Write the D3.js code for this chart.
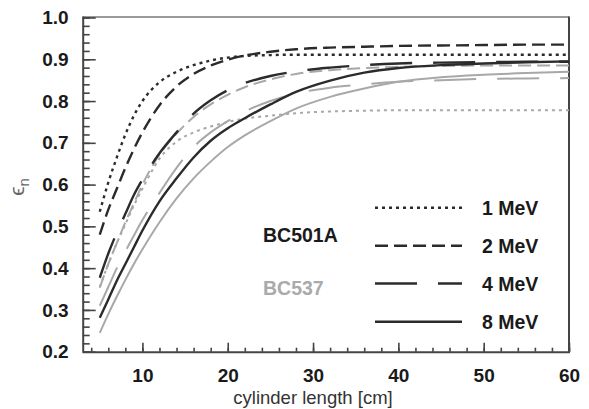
<!DOCTYPE html>
<html><head><meta charset="utf-8">
<script src="https://cdn.jsdelivr.net/npm/d3@7/dist/d3.min.js"></script>
<style>
html,body{margin:0;padding:0;background:#fff;}
svg{display:block;font-family:"Liberation Sans",Arial,Helvetica,sans-serif;}
</style></head>
<body>
<svg id="c" width="589" height="409"></svg>
<script>
// ---- data ----
const lengths = [5, 6, 7, 8, 9, 10, 12, 14, 16, 18, 20, 22, 25, 28, 32, 36, 40, 45, 50, 55, 60];
// BC501A (dark)
const bc501a_1MeV = [0.535,0.605,0.665,0.72,0.765,0.800,0.845,0.870,0.886,0.897,0.904,0.908,0.910,0.911,0.911,0.911,0.911,0.911,0.911,0.911,0.911];
const bc501a_2MeV = [0.48,0.54,0.59,0.64,0.685,0.725,0.79,0.835,0.865,0.885,0.899,0.909,0.918,0.924,0.928,0.930,0.932,0.933,0.934,0.935,0.935];
const bc501a_4MeV = [0.377,0.435,0.485,0.53,0.575,0.612,0.675,0.725,0.77,0.802,0.826,0.843,0.86,0.871,0.88,0.886,0.89,0.892,0.893,0.894,0.894];
const bc501a_8MeV = [0.281,0.325,0.37,0.41,0.45,0.49,0.56,0.615,0.665,0.705,0.735,0.759,0.792,0.822,0.849,0.868,0.879,0.886,0.89,0.893,0.895];
// BC537 (gray)
const bc537_1MeV = [0.355,0.41,0.46,0.505,0.55,0.59,0.662,0.703,0.725,0.739,0.75,0.758,0.765,0.771,0.775,0.777,0.778,0.778,0.778,0.778,0.778];
const bc537_2MeV = [0.353,0.41,0.46,0.51,0.555,0.6,0.672,0.722,0.762,0.792,0.815,0.833,0.852,0.865,0.874,0.879,0.882,0.884,0.885,0.885,0.885];
const bc537_4MeV = [0.31,0.355,0.40,0.44,0.478,0.515,0.58,0.64,0.69,0.725,0.752,0.775,0.80,0.818,0.832,0.84,0.846,0.85,0.853,0.854,0.855];
const bc537_8MeV = [0.245,0.29,0.332,0.372,0.41,0.445,0.51,0.567,0.615,0.655,0.69,0.718,0.752,0.782,0.81,0.83,0.846,0.857,0.863,0.867,0.870];

const energies = ["1 MeV", "2 MeV", "4 MeV", "8 MeV"];
const materials = ["BC501A", "BC537"];
const yTicks = [0.2,0.3,0.4,0.5,0.6,0.7,0.8,0.9,1.0];
const xTicks = [10,20,30,40,50,60];

// ---- styles ----
const dashes = ["3,4", "13,6", "42,21", null];
const matColor = {"BC501A":"#2b2b2b", "BC537":"#a8a8a8"};

const series = [
  {m:"BC537", e:0, v:bc537_1MeV},{m:"BC537", e:1, v:bc537_2MeV},
  {m:"BC537", e:2, v:bc537_4MeV},{m:"BC537", e:3, v:bc537_8MeV},
  {m:"BC501A", e:0, v:bc501a_1MeV},{m:"BC501A", e:1, v:bc501a_2MeV},
  {m:"BC501A", e:2, v:bc501a_4MeV},{m:"BC501A", e:3, v:bc501a_8MeV}
];

const svg = d3.select("#c");
const L = 82.7, R = 569, T = 17.5, B = 351.7;
const x = d3.scaleLinear().domain([3,60]).range([L,R]);
const y = d3.scaleLinear().domain([0.2,1.0]).range([B,T]);

// frame top/right
svg.append("line").attr("x1",L).attr("x2",R).attr("y1",T-0.5).attr("y2",T-0.5)
  .attr("stroke","#9a9a9a").attr("stroke-width",2);
svg.append("line").attr("x1",R).attr("x2",R).attr("y1",T-1).attr("y2",B)
  .attr("stroke","#444").attr("stroke-width",2);

// curves
const line = d3.line().x((d,i)=>x(lengths[i])).y(d=>y(d)).curve(d3.curveMonotoneX);
svg.append("clipPath").attr("id","pc").append("rect")
  .attr("x",L).attr("y",T).attr("width",R-L).attr("height",B-T);
svg.append("g").attr("clip-path","url(#pc)").selectAll("path").data(series).join("path")
  .attr("d", d=>line(d.v))
  .attr("fill","none")
  .attr("stroke", d=>matColor[d.m])
  .attr("stroke-width", d=> d.m==="BC501A" ? 2.4 : 2.0)
  .attr("stroke-dasharray", d=>dashes[d.e]);

// axes
const fontTick = "bold 19px 'Liberation Sans', Arial, sans-serif";
const yMinor = d3.range(0.2, 1.0001, 0.02).map(v=>+v.toFixed(2));
const xMinor = d3.range(4, 60.001, 2);

const gy = svg.append("g").attr("transform",`translate(${L},0)`);
gy.call(d3.axisLeft(y).tickValues(yMinor).tickSize(-7).tickFormat(""));
gy.call(g=>g.select(".domain").remove());
const gy2 = svg.append("g").attr("transform",`translate(${L},0)`);
gy2.call(d3.axisLeft(y).tickValues(yTicks).tickSize(-13).tickPadding(14).tickFormat(d3.format(".1f")));
const gx = svg.append("g").attr("transform",`translate(0,${B})`);
gx.call(d3.axisBottom(x).tickValues(xMinor).tickSize(-4).tickFormat(""));
gx.call(g=>g.select(".domain").remove());
const gx2 = svg.append("g").attr("transform",`translate(0,${B})`);
gx2.call(d3.axisBottom(x).tickValues(xTicks).tickSize(-9).tickPadding(17).tickFormat(d3.format("d")));
[gy,gy2,gx,gx2].forEach(g=>{
  g.selectAll(".tick line").attr("stroke","#444").attr("stroke-width",1.6);
  g.selectAll(".domain").attr("stroke","#444").attr("stroke-width",2);
  g.selectAll("text").attr("fill","#1a1a1a").style("font", fontTick);
});
gy2.select(".domain").attr("d",`M0.5,${B}V${T-1}`);
gx2.select(".domain").attr("d",`M${L},0.5H${R+1}`);

// axis titles
svg.append("text").attr("x",313).attr("y",404).attr("text-anchor","middle")
  .attr("fill","#333").style("font","18.5px 'Liberation Sans', Arial, sans-serif")
  .text("cylinder length [cm]");
const yt = svg.append("text").attr("transform","translate(24,187) rotate(-90)")
  .attr("text-anchor","middle").attr("fill","#666")
  .style("font","21px 'Liberation Sans', Arial, sans-serif");
yt.append("tspan").text("ϵ");
yt.append("tspan").attr("dy",5).style("font-size","15px").text("n");

// legend
const legY = [207.7, 245.7, 283.5, 321.7];
const lg = svg.append("g");
lg.selectAll("line").data(energies).join("line")
  .attr("x1",375).attr("x2",462)
  .attr("y1",(d,i)=>legY[i]).attr("y2",(d,i)=>legY[i])
  .attr("stroke","#2b2b2b").attr("stroke-width",2.4)
  .attr("stroke-dasharray",(d,i)=>dashes[i]);
lg.selectAll("text.e").data(energies).join("text").attr("class","e")
  .attr("x",482).attr("y",(d,i)=>legY[i]+7)
  .attr("fill","#1a1a1a").style("font","bold 19.5px 'Liberation Sans', Arial, sans-serif")
  .text(d=>d);
lg.selectAll("text.m").data(materials).join("text").attr("class","m")
  .attr("x",263).attr("y",(d,i)=>[242,295][i])
  .attr("fill",d=>d==="BC501A"?"#1a1a1a":"#aaaaaa")
  .style("font","bold 19.5px 'Liberation Sans', Arial, sans-serif")
  .text(d=>d);
</script>
</body></html>
